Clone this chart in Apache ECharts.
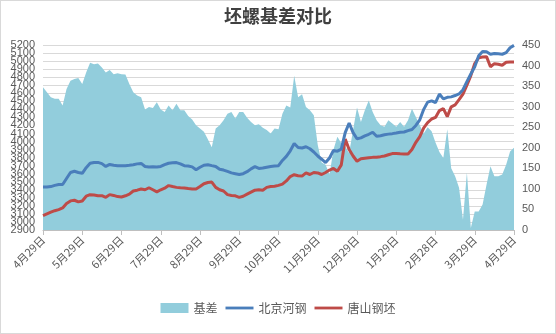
<!DOCTYPE html>
<html>
<head>
<meta charset="utf-8">
<script src="https://cdn.jsdelivr.net/npm/echarts@6/dist/echarts.min.js"></script>
<style>
html,body{margin:0;padding:0;background:#fff;}
#c{width:556px;height:334px;box-sizing:border-box;border:1px solid #d9d9d9;}
</style>
</head>
<body>
<div id="c"></div>
<script>
var tickLabels = ['4月29日','5月29日','6月29日','7月29日','8月29日','9月29日','10月29日','11月29日','12月29日','1月29日','2月28日','3月29日','4月29日'];
var stepsPerMonth = 10;

var basis = [
347,335,323,319,319,303,343,363,367,370,355,383,407,403,405,395,383,389,379,381,
379,378,355,335,327,323,293,299,297,311,293,287,303,291,307,291,291,277,269,255,
247,239,221,201,247,255,267,283,287,271,287,287,273,263,255,257,249,243,235,247,
245,283,303,298,375,323,330,299,291,279,207,164,159,135,195,227,211,203,187,243,
298,263,291,315,287,267,255,251,267,259,251,263,251,267,295,275,255,235,250,240,
213,190,175,245,150,131,103,25,140,5,45,45,62,110,155,131,131,135,159,191,
200
];

var beijing = [
3434,3434,3440,3455,3465,3465,3540,3615,3630,3615,3605,3675,3730,3740,3740,3725,3690,3715,3705,3700,
3700,3700,3705,3712,3722,3728,3690,3682,3685,3682,3690,3712,3730,3735,3738,3722,3700,3695,3685,3650,
3680,3705,3712,3700,3690,3655,3645,3628,3610,3600,3590,3600,3625,3660,3688,3665,3670,3680,3690,3695,
3700,3765,3815,3885,3975,3925,3920,3935,3910,3870,3820,3780,3738,3795,3890,3880,3905,4110,4230,4110,
4035,4045,4070,4090,4115,4065,4072,4085,4092,4098,4106,4115,4118,4135,4150,4200,4270,4400,4490,4505,
4485,4590,4530,4550,4555,4572,4592,4645,4745,4840,4930,5065,5120,5115,5085,5095,5090,5085,5105,5165,
5195
];

var tangshan = [
3079,3100,3121,3140,3154,3175,3230,3262,3270,3250,3260,3320,3339,3335,3327,3327,3306,3340,3330,3315,
3311,3325,3345,3385,3395,3410,3400,3425,3400,3375,3400,3420,3452,3440,3430,3425,3422,3415,3410,3410,
3440,3475,3490,3496,3430,3400,3385,3340,3330,3325,3306,3320,3345,3370,3395,3400,3395,3430,3440,3445,
3455,3470,3510,3565,3587,3575,3570,3610,3590,3615,3610,3590,3615,3645,3665,3630,3710,4030,3900,3820,
3755,3785,3793,3798,3803,3805,3812,3820,3835,3850,3852,3848,3846,3846,3900,3990,4060,4170,4235,4280,
4300,4385,4410,4310,4430,4455,4520,4590,4700,4820,4970,5040,5050,5055,4930,4968,4960,4948,4985,4990,
4990
];

var leftMin = 2900, leftMax = 5200, leftStep = 100;

function pairs(arr){ return arr.map(function(v,i){ return [i, v]; }); }

var chart = echarts.init(document.getElementById('c'), null, {renderer:'canvas'});
var txt = '#595959';
var leftLabelStyle = {color:txt, fontFamily:'Liberation Sans', fontSize:11, margin:8,
  showMinLabel:true, showMaxLabel:true, hideOverlap:false};
function leftAxis(parity, main){
  return {
    type:'value', min:leftMin, max:leftMax, interval:leftStep, position:'left',
    axisLine:{show:false}, axisTick:{show:false},
    splitLine:{show:main, lineStyle:{color:'#d9d9d9'}},
    axisLabel:Object.assign({}, leftLabelStyle, {
      formatter:function(v){
        var k = Math.round((v - leftMin)/leftStep);
        return (k % 2 === parity) ? String(v) : '';
      }
    })
  };
}
chart.setOption({
  animation:false,
  backgroundColor:'#fff',
  title:{
    text:'坯螺基差对比', left:'center', top:1,
    textStyle:{fontFamily:'Noto Sans CJK SC', fontSize:18, fontWeight:'bold', color:'#404040'}
  },
  legend:{
    bottom:14, left:'center', itemGap:8, itemWidth:28, itemHeight:10,
    textStyle:{fontFamily:'Noto Sans CJK SC', fontSize:12, color:txt},
    data:[
      {name:'基差', icon:'rect'},
      {name:'北京河钢', icon:'path://M0,4 L30,4 L30,7 L0,7 Z'},
      {name:'唐山钢坯', icon:'path://M0,4 L30,4 L30,7 L0,7 Z'}
    ]
  },
  grid:{left:42, right:41, top:44, bottom:103},
  xAxis:{
    type:'value', min:0, max:(tickLabels.length-1)*stepsPerMonth, interval:stepsPerMonth,
    axisLine:{show:true, lineStyle:{color:'#bfbfbf'}},
    axisTick:{show:true, length:5, lineStyle:{color:'#bfbfbf'}},
    splitLine:{show:false},
    axisLabel:{
      rotate:45, margin:8, color:txt, fontFamily:'Noto Sans CJK SC', fontSize:11,
      showMinLabel:true, showMaxLabel:true, hideOverlap:false,
      formatter:function(v){ return tickLabels[Math.round(v/stepsPerMonth)] || ''; }
    }
  },
  yAxis:[
    leftAxis(0, true),
    {
      type:'value', min:0, max:450, interval:50, position:'right',
      axisLine:{show:false}, axisTick:{show:false},
      splitLine:{show:false},
      axisLabel:{color:txt, fontFamily:'Liberation Sans', fontSize:11, margin:8,
        showMinLabel:true, showMaxLabel:true,
        formatter:function(v){ return String(v); }}
    },
    leftAxis(1, false)
  ],
  series:[
    {
      name:'基差', type:'line', yAxisIndex:1, data:pairs(basis),
      symbol:'none', lineStyle:{width:0, color:'#92cddc'},
      itemStyle:{color:'#92cddc'},
      areaStyle:{color:'#92cddc', opacity:1}, z:1
    },
    {
      name:'北京河钢', type:'line', yAxisIndex:0, data:pairs(beijing),
      symbol:'none', lineStyle:{width:3, color:'#4a7ebb'}, itemStyle:{color:'#4a7ebb'}, z:3
    },
    {
      name:'唐山钢坯', type:'line', yAxisIndex:0, data:pairs(tangshan),
      symbol:'none', lineStyle:{width:3, color:'#be4b48'}, itemStyle:{color:'#be4b48'}, z:2
    }
  ]
});
</script>
</body>
</html>
